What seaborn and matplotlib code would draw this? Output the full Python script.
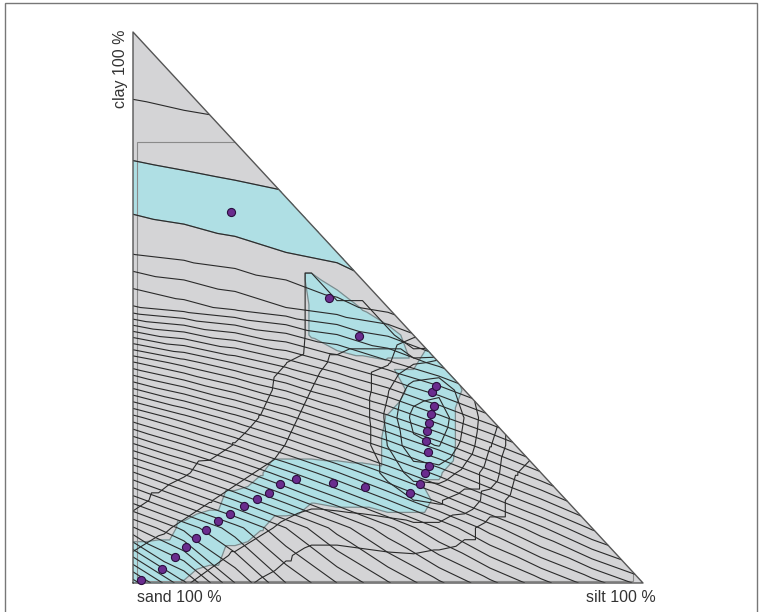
import numpy as np
import matplotlib
matplotlib.use("Agg")
import matplotlib.pyplot as plt
import matplotlib.tri as mtri
from matplotlib.patches import Polygon, Rectangle
import seaborn as sns
import pandas as pd

sns.set_style("white")
plt.rcParams["font.family"] = ["Liberation Sans", "DejaVu Sans"]

# ---- sample compositions (percent)
silt = [1.6, 5.7, 8.2, 10.4, 12.4, 14.3, 16.7, 19.0, 21.8, 24.3, 26.7, 28.8, 32.0,
        39.2, 45.5, 54.3, 56.3, 57.3, 58.0, 57.8, 57.5, 57.6, 58.0, 58.4, 59.0,
        58.6, 59.4, 38.4, 44.3, 19.2]
clay = [0.5, 2.5, 4.8, 6.6, 8.1, 9.7, 11.2, 12.6, 13.9, 15.2, 16.4, 17.9, 18.8,
        18.2, 17.5, 16.4, 17.9, 19.9, 21.2, 23.7, 25.7, 27.5, 29.1, 30.6, 32.2,
        34.6, 35.7, 51.8, 44.9, 67.3]

# ---- response surface A on a 10 % lattice (row = clay step, entries = silt step)
A_rows = [
    [0.5, 4.8, 9.0, 12.0, 14.0, 15.9, 17.8, 19.7, 21.6, 23.5, 25.4],
    [7.9, 10.3, 12.6, 15.0, 17.4, 19.7, 22.1, 24.5, 26.8, 29.2],
    [14.9, 17.2, 19.4, 21.7, 23.9, 26.2, 28.4, 30.7, 32.9],
    [22.6, 24.6, 26.6, 28.6, 30.7, 32.7, 34.7, 36.7],
    [30.9, 32.5, 34.1, 35.6, 37.2, 38.8, 40.4],
    [39.9, 40.6, 41.3, 42.0, 42.7, 43.4],
    [43.1, 43.4, 43.7, 44.0, 44.3],
    [44.4, 44.57, 44.73, 44.9],
    [45.3, 45.45, 45.6],
    [46.2, 46.4],
    [47.0],
]
A_levels = list(range(1, 47))
A_band = [44, 45]

# ---- ring surface (5 % lattice, missing entries = 5)
B1_default = 5.0
B1_rows = [
    "", "", "",
    "5 5 5 5 5 5 5 5 5 5 5 4.51 4.42",
    "5 5 5 5 5 5 5 5 5 5 4.26 3.05 2.92 3.78",
    "5 5 5 5 5 5 5 5 5 5 3.45 1.73 1.45 2.83 4.47",
    "5 5 5 5 5 5 5 5 5 5 3.21 1.18 0.79 2.53 4.29",
    "5 5 5 5 5 5 5 5 5 5 3.57 1.97 1.76 2.98",
    "5 5 5 5 5 5 5 5 5 5 4.6 3.6 3.4",
    "5 5 5 5 5 5 5 5 5 5 5 4.6",
] + [""] * 11
B1_levels = [1.5, 2.5, 3.5, 4.5]

# ---- envelope surface (5 % lattice, missing entries = 4.9)
B2_default = 4.9
B2_rows = [
    "2.9 3.0 3.4 3.8 4.2 4.6",
    "3.4 3.0 2.8 3.2 3.6 4.0 4.4 4.8 4.8 4.7 4.6 4.55 4.7",
    "4.1 3.7 3.3 2.9 2.9 3.3 3.7 4.0 4.0 3.9 3.8 3.7 3.7 4.2",
    "4.75 4.35 3.95 3.55 3.15 2.75 3.06 3.27 3.19 3.12 3.0 2.7 2.7 2.83 3.9",
    "4.9 4.9 4.6 4.2 3.8 3.4 3.0 2.7 2.7 2.7 2.7 2.7 2.7 2.7 2.92 4.46",
    "4.9 4.9 4.9 4.86 4.46 4.06 3.47 2.81 2.7 2.7 2.7 2.7 2.7 2.7 2.7 4.0",
    "4.9 4.9 4.9 4.9 4.9 4.47 3.81 3.15 2.7 2.7 2.7 2.7 2.7 2.7 2.7",
    "4.9 4.9 4.9 4.9 4.9 4.8 4.15 3.49 2.86 2.7 2.7 2.7 2.7 2.7",
    "4.9 4.9 4.9 4.9 4.9 4.9 4.52 3.83 3.3 3.0 3.0 3.0 2.9",
    "4.9 4.9 4.9 4.9 4.9 4.9 6.0 4.0 4.0 4.0 4.0 6.0",
    "4.9 4.9 4.9 4.9 4.9 4.9 6.0 4.0 4.0 4.0 6.0",
    "4.9 4.9 4.9 4.9 4.9 4.9 6.0 4.0 6.0 6.0",
    "4.9 4.9 4.9 4.9 4.9 4.9 6.0 6.0 4.9",
] + [""] * 8
B2_levels = [3.5, 4.5]

# ---- highlighted (cyan) zone, 5 % lattice, digits 0-9, threshold 4.5
C_rows = [
    "994000000000000000000",
    "99972000000000000000",
    "0169951000000000000",
    "000279956688300000",
    "00000499876551000",
    "0000000000699200",
    "000000000059920",
    "00000000001694",
    "0000000013447",
    "000000059972",
    "00000005940",
    "0000000620",
    "000000000",
    "00000000",
    "0000000",
    "000000",
    "00000",
    "0000",
    "000",
    "00",
    "0",
]


def lattice(n):
    xs, ys, idx = [], [], {}
    k = 0
    for j in range(n + 1):
        for i in range(n + 1 - j):
            idx[(i, j)] = k
            xs.append(i / n)
            ys.append(j / n)
            k += 1
    tris = []
    for j in range(n):
        for i in range(n - j):
            tris.append([idx[(i, j)], idx[(i + 1, j)], idx[(i, j + 1)]])
            if i + j + 1 < n:
                tris.append([idx[(i + 1, j)], idx[(i + 1, j + 1)], idx[(i, j + 1)]])
    return mtri.Triangulation(xs, ys, tris)


def rows_to_values(rows, n, default):
    vals = []
    for j, r in enumerate(rows):
        v = [float(t) for t in r.split()]
        v = v + [default] * (n + 1 - j - len(v))
        vals.extend(v)
    return np.array(vals)


triA = lattice(10)
A = np.array([v for row in A_rows for v in row])
tri20 = lattice(20)
B1 = rows_to_values(B1_rows, 20, B1_default)
B2 = rows_to_values(B2_rows, 20, B2_default)
C = np.array([float(ch) for r in C_rows for ch in r])

fig = plt.figure(figsize=(7.62, 6.12), dpi=100)
ax = fig.add_axes([133 / 762, 29 / 612, 510 / 762, 551 / 612])

tri_patch = Polygon([[0, 0], [1, 0], [0, 1]], closed=True, fc="#d4d4d6", ec="none", zorder=0)
ax.add_patch(tri_patch)

cyan = "#afdfe4"
edge_c = "#7f8c8e"
line_c = "#2a2a2a"
ax.tricontourf(triA, A, levels=A_band, colors=[cyan], zorder=1)
ax.tricontourf(tri20, C, levels=[4.5, 10], colors=[cyan], zorder=1)
ax.tricontour(tri20, C, levels=[4.5], colors=edge_c, linewidths=0.9, zorder=2)
ax.tricontour(triA, A, levels=A_band, colors=edge_c, linewidths=0.9, zorder=2)
ax.tricontour(triA, A, levels=A_levels, colors=line_c, linewidths=0.8, zorder=3)
ax.tricontour(tri20, B1, levels=B1_levels, colors=line_c, linewidths=0.8, zorder=3)
ax.tricontour(tri20, B2, levels=B2_levels, colors=line_c, linewidths=0.8, zorder=3)

frame = Rectangle((0.008, 0.004), 0.972, 0.796, fill=False, ec="#8a8a8a", lw=0.8, zorder=2)
ax.add_patch(frame)
frame.set_clip_path(tri_patch)

ax.plot([0, 1, 0, 0], [0, 0, 1, 0], color="#555555", lw=1.0, zorder=4, clip_on=False)

pts = pd.DataFrame({"silt": np.array(silt) / 100, "clay": np.array(clay) / 100})
sns.scatterplot(data=pts, x="silt", y="clay", ax=ax, s=34, color="#6a2c8e",
                edgecolor="#2b0f3f", linewidth=0.8, zorder=5, legend=False, clip_on=False)
ax.set_xlim(0, 1)
ax.set_ylim(0, 1)
ax.axis("off")

fig.text(137 / 762, 1 - 598 / 612, "sand 100 %", fontsize=11.5, color="#333333", ha="left", va="center")
fig.text(656 / 762, 1 - 598 / 612, "silt 100 %", fontsize=11.5, color="#333333", ha="right", va="center")
fig.text(120 / 762, 1 - 30 / 612, "clay 100 %", fontsize=11.5, color="#333333", ha="center", va="top", rotation=90)

fig.patches.append(Rectangle((5 / 762, -0.02), 752 / 762, 1.02 - 3 / 612, transform=fig.transFigure,
                             fill=False, ec="#777777", lw=1.0))
fig.savefig("out.png", dpi=100)
